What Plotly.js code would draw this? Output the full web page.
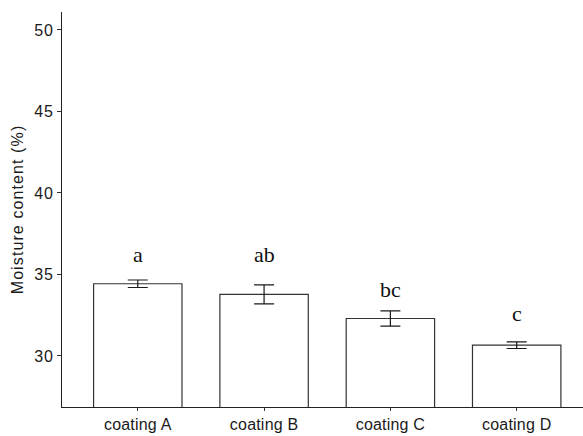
<!DOCTYPE html>
<html>
<head>
<meta charset="utf-8">
<script src="https://cdn.plot.ly/plotly-3.0.1.min.js"></script>
<style>
  html, body { margin: 0; padding: 0; background: #fff; }
  #chart { width: 583px; height: 436px; }
  .ytitle { letter-spacing: 1.1px; }
  .ytick text { letter-spacing: 0.8px; }
  .xtick text { letter-spacing: 0.2px; }
</style>
</head>
<body>
<div id="chart"></div>
<script>
// Moisture content by coating treatment (mean ± SE) with significance letters
const coatings = ['coating A', 'coating B', 'coating C', 'coating D'];
const moisture = [34.43, 33.78, 32.30, 30.66];
const stdErr = [0.23, 0.58, 0.47, 0.20];
const groupLetters = ['a', 'ab', 'bc', 'c'];
const letterHeights = [35.77, 35.77, 33.64, 32.15];
const yTickVals = [30, 35, 40, 45, 50];

const bars = {
  type: 'bar',
  x: coatings,
  y: moisture,
  width: 0.7,
  marker: { color: '#ffffff', line: { color: '#333333', width: 1.2 } },
  error_y: { type: 'data', array: stdErr, visible: true, color: '#1a1a1a', thickness: 1.2, width: 10 },
  hoverinfo: 'skip'
};

const letters = groupLetters.map((t, i) => ({
  x: coatings[i],
  y: letterHeights[i],
  xref: 'x', yref: 'y',
  text: t,
  showarrow: false,
  yanchor: 'bottom',
  yshift: -7,
  font: { family: 'Liberation Serif, Times New Roman, serif', size: 22, color: '#111111' }
}));

const layout = {
  width: 583,
  height: 436,
  margin: { l: 62, r: 0, t: 12, b: 29 },
  paper_bgcolor: '#ffffff',
  plot_bgcolor: '#ffffff',
  showlegend: false,
  xaxis: {
    type: 'category',
    range: [-0.6, 3.525],
    showgrid: false,
    zeroline: false,
    showline: true,
    linecolor: '#222222',
    linewidth: 1.2,
    ticks: 'outside',
    ticklen: 3,
    tickcolor: '#333333',
    tickwidth: 1,
    tickfont: { family: 'Liberation Sans, Arial, sans-serif', size: 16, color: '#1a1a1a' }
  },
  yaxis: {
    range: [26.87, 51.1],
    tickvals: yTickVals,
    ticktext: yTickVals.map(String),
    showgrid: false,
    zeroline: false,
    showline: true,
    linecolor: '#222222',
    linewidth: 1.2,
    ticks: 'outside',
    ticklen: 4,
    tickcolor: '#333333',
    tickwidth: 1,
    tickfont: { family: 'Liberation Sans, Arial, sans-serif', size: 16, color: '#1a1a1a' },
    title: {
      text: 'Moisture content (%)',
      standoff: 6,
      font: { family: 'Liberation Sans, Arial, sans-serif', size: 16, color: '#1a1a1a' }
    }
  },
  annotations: letters
};

Plotly.newPlot('chart', [bars], layout, { displayModeBar: false, staticPlot: true });
</script>
</body>
</html>
